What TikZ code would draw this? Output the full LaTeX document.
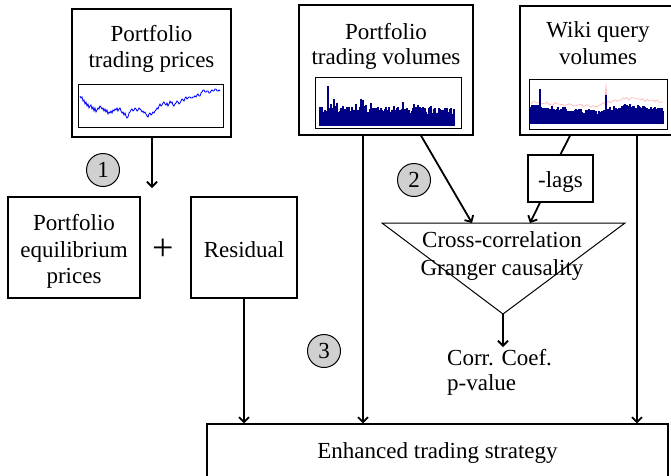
\documentclass[tikz,border=0pt]{standalone}
\usepackage{fontspec}
\setmainfont{Liberation Serif}
\usetikzlibrary{arrows.meta}
\definecolor{barnavy}{RGB}{0,0,135}
\definecolor{pinkln}{RGB}{255,185,185}
\definecolor{circgray}{RGB}{208,208,208}
\begin{document}
\begin{tikzpicture}[x=1pt,y=-1pt,
  box/.style={draw,line width=1.2pt,inner sep=0pt},
  chartframe/.style={draw,line width=1pt,inner sep=0pt},
  lbl/.style={font=\fontsize{23}{27}\selectfont,anchor=base,inner sep=0pt},
  circ/.style={circle,draw,line width=1pt,fill=circgray,minimum size=33pt,inner sep=0pt,font=\fontsize{23}{27}\selectfont},
  arr/.style={line width=1.8pt,-{Straight Barb[length=5pt,width=10pt]}},
  conn/.style={line width=1.8pt},
  tri/.style={line width=1pt},
  bar/.style={barnavy,line width=1.1pt}
]
\useasboundingbox (0,0) rectangle (671,475);

% ---------- main boxes ----------
\node[box,minimum width=159pt,minimum height=128pt] (A) at (151.5,73) {};
\node[box,minimum width=174pt,minimum height=130pt] (B) at (386,70) {};
\node[box,minimum width=156pt,minimum height=129pt] (C) at (598,70.5) {};
\node[box,minimum width=132pt,minimum height=101pt] (Eq) at (74,247.5) {};
\node[box,minimum width=106pt,minimum height=101pt] (R) at (244,247.5) {};
\node[box,minimum width=65pt,minimum height=47pt] (L) at (560.5,178.5) {};
\node[box,minimum width=461pt,minimum height=61pt] (Bot) at (437.5,454.5) {};

% ---------- texts ----------
\node[lbl] (At1) at (151.5,41) {Portfolio};
\node[lbl] (At2) at (151.5,67) {trading prices};
\node[lbl] (Bt1) at (386,39) {Portfolio};
\node[lbl] (Bt2) at (386,64) {trading volumes};
\node[lbl] (Ct1) at (598,37) {Wiki query};
\node[lbl] (Ct2) at (598,64) {volumes};
\node[lbl] (Eqt1) at (74,230) {Portfolio};
\node[lbl] (Eqt2) at (74,257) {equilibrium};
\node[lbl] (Eqt3) at (74,283) {prices};
\node[lbl] (Rt) at (244,257) {Residual};
\node[lbl] (Lt) at (560.5,187) {-lags};
\node[lbl] (Tt1) at (502,247) {Cross-correlation};
\node[lbl] (Tt2) at (502,275) {Granger causality};
\node[lbl,anchor=base west] (Ot1) at (447,365) {Corr. Coef.};
\node[lbl,anchor=base west] (Ot2) at (447,390) {p-value};
\node[lbl] (Bott) at (437.5,458) {Enhanced trading strategy};
\node[font=\fontsize{38}{40}\selectfont,inner sep=0pt] (plus) at (163,250) {+};

% ---------- step circles ----------
\node[circ] (c1) at (103,170) {1};
\node[circ] (c2) at (414,180) {2};
\node[circ] (c3) at (324,351) {3};

% ---------- price chart ----------
\draw[blue,line width=0.8pt] plot coordinates {
(80,96)(81,98)(82,97)(83,101)(84,100)(85,104)(86,102)(87,106)(88,104)(89,108)
(90,106)(91,105)(92,109)(93,107)(94,111)(95,108)(96,112)(97,110)(98,108)(99,109)
(100,106)(101,107)(102,109)(103,108)(104,111)(105,109)(106,112)(107,110)(108,114)(109,112)
(110,113)(111,111)(112,113)(113,110)(114,111)(115,109)(116,110)(117,108)(118,111)(119,109)
(120,108)(121,111)(122,113)(123,112)(124,115)(125,113)(126,116)(127,118)(128,117)(129,113)
(130,112)(131,110)(132,109)(133,111)(134,110)(135,108)(136,109)(137,111)(138,110)(139,108)
(140,109)(141,110)(142,112)(143,111)(144,113)(145,112)(146,114)(147,116)(148,117)(149,114)
(150,113)(151,115)(152,114)(153,112)(154,113)(155,111)(156,110)(157,108)(158,109)(159,106)
(160,104)(161,106)(162,105)(163,103)(164,102)(165,104)(166,105)(167,103)(168,106)(169,104)
(170,101)(171,103)(172,102)(173,105)(174,106)(175,104)(176,103)(177,101)(178,102)(179,104)
(180,103)(181,101)(182,99)(183,100)(184,101)(185,98)(186,97)(187,99)(188,98)(189,97)
(190,97)(191,98)(192,98)(193,97)(194,97)(195,96)(196,97)(197,95)(198,94)(199,96)
(200,96)(201,93)(202,92)(203,90)(204,90)(205,92)(206,92)(207,91)(208,91)(209,93)
(210,93)(211,91)(212,90)(213,91)(214,91)(215,89)(216,89)(217,91)(218,91)(219,90)(220,91)};
\node[chartframe,minimum width=145pt,minimum height=43pt] (Ach) at (150.5,105.5) {};

% ---------- trading volume chart ----------
\pgfmathsetseed{17}
\draw[pinkln,line width=0.6pt,opacity=0.6] (320,112) \foreach \x in {322,324,...,454}{ -- (\x,{109+4*rnd})};
\foreach \x in {320,...,454}{
  \pgfmathsetmacro\r{rnd}
  \pgfmathsetmacro\t{112+3*(\x-320)/134-8*\r*\r}
  \draw[bar] (\x,126) -- (\x,\t);
}
\foreach \x/\t in {328/86,331/104,334/99,337/103,347/107,356/104,361/99,363/100,366/105,371/103,378/107,386/108,394/107,403/102,407/108,414/104,418/105,421/108,431/106,440/109,451/108}{
  \draw[bar] (\x,126) -- (\x,\t);
}
\node[chartframe,minimum width=146pt,minimum height=51pt] (Bch) at (388,102.5) {};

% ---------- wiki chart ----------
\draw[pinkln,line width=0.7pt] (531,104) \foreach \x in {533,535,...,663}{ -- (\x,{(\x<600) ? (104+4*(\x-530)/70-3*rnd) : ((\x<625) ? (106-6*(\x-600)/25-3*rnd) : (100+3*(\x-625)/38-3*rnd))})};
\draw[pinkln,line width=0.7pt] (605,105) -- (606,84) -- (607,105);
\foreach \x in {531,...,663}{
  \pgfmathsetmacro\b{(\x<600) ? (107+5*(\x-530)/70) : ((\x<625) ? (112-6*(\x-600)/25) : (106+4*(\x-625)/38))}
  \pgfmathsetmacro\t{\b+5*rnd-2.5}
  \draw[bar] (\x,124) -- (\x,\t);
}
\draw[bar] (540,124) -- (540,89);
\draw[bar] (606,124) -- (606,95);
\node[chartframe,minimum width=138pt,minimum height=50pt] (Cch) at (598,104) {};

% ---------- triangle ----------
\coordinate (tl) at (382,223);
\coordinate (tr) at (625,223);
\coordinate (ap) at (503,314);
\draw[tri] (tl) -- (tr) -- (ap) -- cycle;

% ---------- connectors ----------
\coordinate (a1end) at (152,188);
\draw[arr] (A.south -| a1end) -- (a1end);
\coordinate (bv) at (363,0);
\draw[arr] (B.south -| bv) -- (Bot.north -| bv);
\coordinate (b2s) at (421,0);
\coordinate (t2) at (472,223);
\draw[arr] (B.south -| b2s) -- (t2);
\coordinate (cl) at (570,0);
\draw[conn] (C.south -| cl) -- (L.north);
\coordinate (ls) at (540,0);
\coordinate (t3) at (530,223);
\draw[arr] (L.south -| ls) -- (t3);
\coordinate (cv) at (637,0);
\draw[arr] (C.south -| cv) -- (Bot.north -| cv);
\draw[arr] (R.south) -- (Bot.north -| R.south);
\coordinate (apend) at (503,347);
\draw[arr] (ap) -- (apend);
\end{tikzpicture}
\end{document}
